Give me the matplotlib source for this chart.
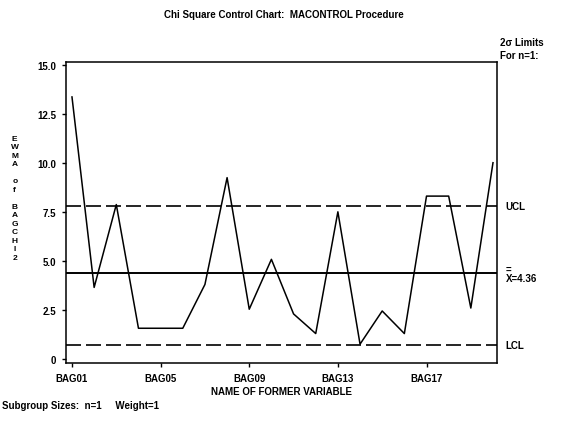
import matplotlib
matplotlib.use("Agg")
import matplotlib.pyplot as plt

# EWMA of BAGCHI2 per subgroup
bags = [f"BAG{i:02d}" for i in range(1, 21)]
ewma = [13.35, 3.65, 7.87, 1.57, 1.57, 1.57, 3.8, 9.24, 2.54, 5.08,
        2.3, 1.3, 7.5, 0.76, 2.45, 1.3, 8.3, 8.3, 2.6, 10.0]
ucl = 7.82
center = 4.36
lcl = 0.73
tick_bags = ["BAG01", "BAG05", "BAG09", "BAG13", "BAG17"]
y_ticks = [0, 2.5, 5.0, 7.5, 10.0, 12.5, 15.0]
y_tick_labels = ["0", "2.5", "5.0", "7.5", "10.0", "12.5", "15.0"]

plt.rcParams["font.family"] = ["Liberation Sans", "DejaVu Sans"]
plt.rcParams["font.weight"] = "bold"

fig = plt.figure(figsize=(5.67, 4.27), dpi=100)
ax = fig.add_axes([0.1164, 0.1475, 0.7601, 0.705])

x = list(range(1, len(bags) + 1))
ax.plot(x, ewma, color="black", lw=1.1)
ax.axhline(ucl, color="black", lw=1.2, dashes=(9, 3))
ax.axhline(center, color="black", lw=1.4)
ax.axhline(lcl, color="black", lw=1.2, dashes=(9, 3))

ax.set_xlim(0.73, 20.18)
ax.set_ylim(-0.2, 15.13)
ax.set_xticks([bags.index(b) + 1 for b in tick_bags])
ax.set_xticklabels(tick_bags, fontsize=7, fontweight="bold")
ax.set_yticks(y_ticks)
ax.set_yticklabels(y_tick_labels, fontsize=7, fontweight="bold")
ax.tick_params(direction="out", length=3, width=1, pad=4)
for sp in ax.spines.values():
    sp.set_linewidth(1.1)

ax.set_xlabel("NAME OF FORMER VARIABLE", fontsize=7, fontweight="bold", labelpad=2)

# stacked vertical axis label, one letter per row
ylab = "\n".join(["E", "W", "M", "A", "", "o", "f", "", "B", "A", "G", "C", "H", "I", "2"])
fig.text(0.026, 0.534, ylab, fontsize=6, fontweight="bold",
         ha="center", va="center", linespacing=1.3)

# control limit labels on the right
trans = ax.get_yaxis_transform()
ax.text(1.02, ucl, "UCL", transform=trans, fontsize=7, fontweight="bold", va="center")
ax.text(1.02, center, "=\nX=4.36", transform=trans, fontsize=7, fontweight="bold",
        va="center", linespacing=0.8)
ax.text(1.02, lcl, "LCL", transform=trans, fontsize=7, fontweight="bold", va="center")
fig.text(0.882, 0.884, "2σ Limits\nFor n=1:", fontsize=7, fontweight="bold",
         va="center", linespacing=1.3)

fig.text(0.5, 0.965, "Chi Square Control Chart:  MACONTROL Procedure",
         fontsize=7, fontweight="bold", ha="center", va="center")
fig.text(0.004, 0.05, "Subgroup Sizes:  n=1     Weight=1", fontsize=7,
         fontweight="bold", ha="left", va="center")

fig.savefig("out.png", dpi=100)
